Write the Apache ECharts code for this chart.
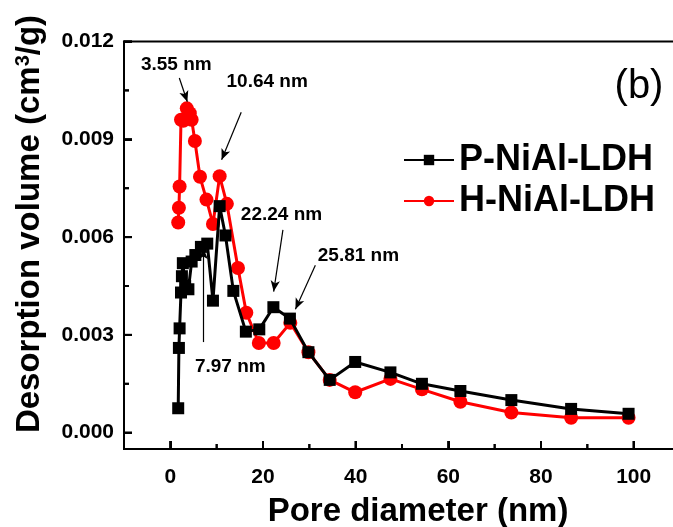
<!DOCTYPE html>
<html>
<head>
<meta charset="utf-8">
<script src="https://cdn.jsdelivr.net/npm/echarts@6/dist/echarts.min.js"></script>
<style>html,body{margin:0;padding:0;background:#fff}#c{width:673px;height:527px}</style>
</head>
<body>
<div id="c"></div>
<script>
// ---- data ----
const seriesNames = ['P-NiAl-LDH', 'H-NiAl-LDH'];
const pX = [1.7,1.85,2.0,2.3,2.5,2.7,3.2,3.9,4.6,5.4,6.6,7.97,9.2,10.64,11.9,13.6,16.3,19.2,22.24,25.81,29.8,34.4,39.9,47.5,54.3,62.6,73.6,86.5,98.9];
const pY = [0.00075,0.0026,0.0032,0.0043,0.0048,0.0052,0.0045,0.0044,0.00525,0.00545,0.0057,0.0058,0.00405,0.00695,0.00605,0.00435,0.0031,0.00317,0.00385,0.0035,0.00247,0.00162,0.00217,0.00185,0.0015,0.00128,0.001,0.00073,0.00058];
const hX = [1.7,1.85,2.0,2.3,2.8,3.55,4.2,4.6,5.3,6.4,7.8,9.2,10.64,12.2,14.6,16.4,19.1,22.3,25.9,29.8,34.4,39.9,47.5,54.3,62.6,73.6,86.5,98.9];
const hY = [0.00645,0.0069,0.00755,0.0096,0.00957,0.00995,0.0098,0.0096,0.00895,0.00785,0.00715,0.0064,0.00787,0.00702,0.00505,0.00368,0.00275,0.00275,0.00337,0.00247,0.00162,0.00124,0.00165,0.00133,0.00095,0.00062,0.00046,0.00046];
const xTicks = [0,20,40,60,80,100];
const xMinorTicks = [10,30,50,70,90];
const yTicks = [0,0.003,0.006,0.009,0.012];
const yMinorTicks = [0.0015,0.0045,0.0075,0.0105];
const annoTexts = ['3.55 nm','10.64 nm','22.24 nm','25.81 nm','7.97 nm'];
const annoTextPos = [[1.29,0.0113],[20.9,0.01076],[24.0,0.00667],[40.6,0.00542],[12.95,0.00202]];
const arrowFrom = [[1.94,0.01088],[15.3,0.00983],[24.3,0.00622],[31.3,0.00514],[7.12,0.00278]];
const arrowTo = [[3.67,0.01015],[11.07,0.00837],[22.3,0.00433],[27.0,0.00379],[7.12,0.00566]];

const X_MIN = -10, X_MAX = 110, Y_MIN = -0.0005, Y_MAX = 0.012;
const FONT = '"Liberation Sans", Arial, sans-serif';
const chart = echarts.init(document.getElementById('c'), null, {renderer:'canvas'});

function toPairs(xs, ys){ return xs.map((x,i)=>[x, ys[i]]); }

// tick marks as small filled rects, placed with the axes' scales (api.coord)
function tickSeries(values, isX, len){
  return {
    type:'custom', name:'tick'+(isX?'x':'y')+len, xAxisIndex:0, yAxisIndex:0, silent:true, clip:false, z:20,
    data: values.map(v=> isX ? [v, Y_MIN] : [X_MIN, v]),
    renderItem: function(params, api){
      const p = api.coord([api.value(0), api.value(1)]);
      const shape = isX ? {x:p[0]-1, y:p[1]-len, width:2, height:len}
                        : {x:p[0], y:p[1]-1, width:len, height:2};
      return {type:'rect', shape:shape, style:{fill:'#000', stroke:null}};
    }
  };
}

const baseGraphic = [
  {id:'lblb', type:'text', x:639, y:87, style:{text:'(b)', fill:'#000', font:'40px "Liberation Sans", Arial, sans-serif', align:'center', verticalAlign:'middle'}},
  {id:'ytitle', type:'text', x:30, y:224, rotation:Math.PI/2,
   style:{text:'Desorption volume (cm{sup|3}/g)', fill:'#000', fontFamily:FONT, fontWeight:'bold', fontSize:33, align:'center', verticalAlign:'middle',
     rich:{sup:{fontFamily:FONT, fontWeight:'bold', fontSize:20, verticalAlign:'top', padding:[0,0,13,0]}}}},
  {id:'xtitle', type:'text', x:418, y:512, style:{text:'Pore diameter (nm)', fill:'#000', fontFamily:FONT, fontWeight:'bold', fontSize:33, align:'center', verticalAlign:'middle'}}
];

const option = {
  animation: false,
  backgroundColor: '#fff',
  grid: {left:124, top:41.5, right:-7, bottom:78, outerBoundsMode:'none', containLabel:false,
         show:true, borderColor:'#000', borderWidth:2, backgroundColor:'transparent'},
  xAxis: [
    {type:'value', min:X_MIN, max:X_MAX, position:'bottom',
     axisLine:{show:true, onZero:false, lineStyle:{color:'#000', width:2}},
     axisTick:{show:true, inside:true, length:8, customValues:xTicks, lineStyle:{color:'#000', width:2}},
     axisLabel:{show:true, customValues:xTicks, color:'#000', fontFamily:FONT, fontWeight:'bold', fontSize:21, margin:18},
     splitLine:{show:false}}
  ],
  yAxis: [
    {type:'value', min:Y_MIN, max:Y_MAX, position:'left',
     axisLine:{show:true, onZero:false, lineStyle:{color:'#000', width:2}},
     axisTick:{show:true, inside:true, length:8, customValues:yTicks, lineStyle:{color:'#000', width:2}},
     axisLabel:{show:true, customValues:yTicks, color:'#000', fontFamily:FONT, fontWeight:'bold', fontSize:21, margin:10,
       formatter:(v)=>Math.abs(v).toFixed(3)},
     splitLine:{show:false}}
  ],
  legend: {
    data: [
      {name:seriesNames[0], itemStyle:{color:'#000'}},
      {name:seriesNames[1], itemStyle:{color:'#ff0000'}}
    ],
    orient:'vertical', left:398, top:137, itemWidth:50, itemHeight:13, itemGap:5,
    textStyle:{color:'#000', fontFamily:FONT, fontWeight:'bold', fontSize:36, padding:[0,0,0,0]}
  },
  graphic: baseGraphic,
  series: [
    {name:seriesNames[0], type:'line', xAxisIndex:0, yAxisIndex:0, data:toPairs(pX,pY),
     symbol:'rect', symbolSize:12, showAllSymbol:true, z:3,
     lineStyle:{color:'#000', width:3}, itemStyle:{color:'#000'}},
    {name:seriesNames[1], type:'line', xAxisIndex:0, yAxisIndex:0, data:toPairs(hX,hY),
     symbol:'circle', symbolSize:14, showAllSymbol:true, z:2,
     lineStyle:{color:'#ff0000', width:3}, itemStyle:{color:'#ff0000'}},
    {name:'annot', type:'scatter', xAxisIndex:0, yAxisIndex:0, symbolSize:0, z:5,
     itemStyle:{opacity:1},
     data: annoTexts.map((t,i)=>({name:t, value:annoTextPos[i]})),
     label:{show:true, position:'inside', formatter:'{b}', color:'#000', opacity:1, fontFamily:FONT, fontWeight:'bold', fontSize:19},
     markLine:{silent:true, symbol:['none','arrow'], symbolSize:[7,11], precision:5, z:6,
       lineStyle:{color:'#000', width:1.2, type:'solid', opacity:1}, label:{show:false},
       data: arrowFrom.map((f,i)=>[{coord:f},{coord:arrowTo[i]}])}
    },
    tickSeries(xTicks, true, 8),
    tickSeries(xMinorTicks, true, 5),
    tickSeries(yTicks, false, 8),
    tickSeries(yMinorTicks, false, 5)
  ]
};
chart.setOption(option);

// additional tick rects as graphic elements (positions from the axis scales)
const tickEls = [];
function addTicks(values, isX, len, tag){
  values.forEach((v,i)=>{
    const p = chart.convertToPixel({gridIndex:0}, isX ? [v, Y_MIN] : [X_MIN, v]);
    if (!p) return;
    const shape = isX ? {x:p[0]-1, y:p[1]-len, width:2, height:len}
                      : {x:p[0], y:p[1]-1, width:len, height:2};
    tickEls.push({id:tag+i, type:'rect', z:100, silent:true, shape:shape, style:{fill:'#000'}});
  });
}
addTicks(xTicks, true, 8, 'xt');
addTicks(xMinorTicks, true, 5, 'xm');
addTicks(yTicks, false, 8, 'yt');
addTicks(yMinorTicks, false, 5, 'ym');
chart.setOption({graphic: baseGraphic.concat(tickEls)});
</script>
</body>
</html>
